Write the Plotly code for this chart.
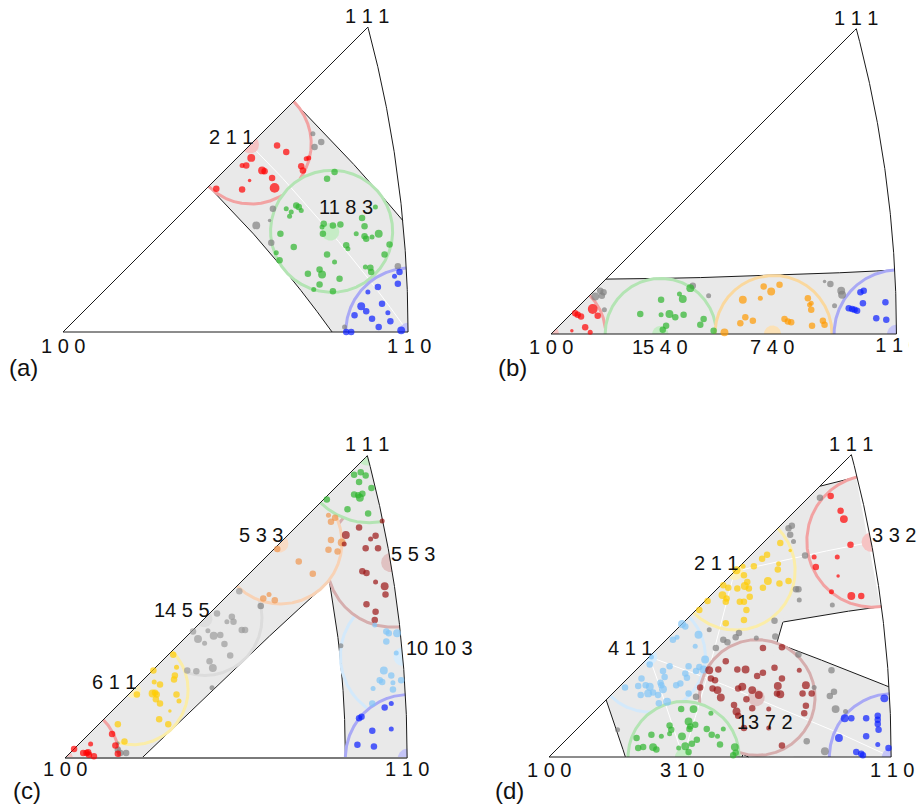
import numpy as np
import plotly.graph_objects as go

# ---------------------------------------------------------------------------
# Orientation data: stereographic coordinates (X, Y) of each grain in the
# standard [100]-[110]-[111] triangle, plus a relative weight (1..5).
# ---------------------------------------------------------------------------
A_RED = [(0.257, 0.224, 3), (0.268, 0.216, 3), (0.226, 0.209, 4), (0.215, 0.200, 2), (0.220, 0.200, 3),
         (0.239, 0.194, 4), (0.242, 0.193, 3), (0.251, 0.185, 3), (0.254, 0.173, 5), (0.224, 0.182, 1),
         (0.215, 0.171, 3), (0.184, 0.172, 3), (0.286, 0.199, 3), (0.288, 0.194, 3), (0.292, 0.208, 2),
         (0.295, 0.209, 2)]
A_GREY = [(0.300, 0.238, 2), (0.310, 0.228, 3), (0.302, 0.222, 3), (0.252, 0.148, 3), (0.248, 0.134, 1),
          (0.232, 0.128, 4), (0.250, 0.107, 3), (0.402, 0.079, 3), (0.338, 0.006, 2)]
A_GREEN = [(0.326, 0.192, 3), (0.317, 0.184, 3), (0.375, 0.150, 2), (0.268, 0.148, 2), (0.274, 0.144, 2),
           (0.280, 0.152, 3), (0.283, 0.150, 3), (0.286, 0.146, 2), (0.272, 0.139, 2), (0.359, 0.137, 3),
           (0.362, 0.127, 3), (0.313, 0.130, 3), (0.311, 0.126, 2), (0.324, 0.128, 3), (0.333, 0.129, 3),
           (0.312, 0.118, 3), (0.352, 0.118, 2), (0.362, 0.115, 3), (0.364, 0.112, 3), (0.371, 0.114, 2),
           (0.379, 0.118, 4), (0.261, 0.118, 3), (0.277, 0.102, 3), (0.340, 0.104, 3), (0.342, 0.100, 2),
           (0.392, 0.105, 3), (0.386, 0.093, 3), (0.317, 0.093, 3), (0.326, 0.084, 2), (0.256, 0.095, 2),
           (0.260, 0.086, 3), (0.369, 0.077, 3), (0.370, 0.072, 3), (0.363, 0.078, 2), (0.294, 0.070, 3),
           (0.308, 0.075, 3), (0.311, 0.069, 4), (0.308, 0.057, 3), (0.324, 0.049, 3), (0.301, 0.051, 2),
           (0.332, 0.064, 3)]
A_BLUE = [(0.404, 0.072, 3), (0.398, 0.067, 2), (0.402, 0.058, 3), (0.378, 0.054, 3), (0.366, 0.048, 2),
          (0.358, 0.031, 4), (0.364, 0.025, 3), (0.383, 0.034, 3), (0.390, 0.023, 2), (0.350, 0.020, 3),
          (0.371, 0.016, 3), (0.393, 0.013, 3), (0.379, 0.006, 3), (0.406, 0.002, 4), (0.340, 0.000, 3),
          (0.346, 0.000, 3)]

B_RED = [(0.029, 0.025, 3), (0.032, 0.023, 3), (0.036, 0.021, 3), (0.050, 0.030, 5), (0.056, 0.022, 3),
         (0.041, 0.008, 3), (0.047, 0.002, 2), (0.025, 0.004, 1)]
B_GREY = [(0.053, 0.045, 4), (0.059, 0.052, 3), (0.063, 0.050, 3), (0.061, 0.046, 3), (0.064, 0.029, 2),
          (0.170, 0.058, 3), (0.189, 0.046, 2), (0.328, 0.063, 1), (0.335, 0.060, 3), (0.348, 0.052, 4),
          (0.349, 0.047, 4), (0.340, 0.034, 2)]
B_GREEN = [(0.167, 0.055, 4), (0.154, 0.048, 2), (0.158, 0.042, 4), (0.132, 0.041, 3), (0.107, 0.024, 3),
           (0.132, 0.023, 2), (0.142, 0.024, 4), (0.149, 0.020, 3), (0.159, 0.023, 3), (0.183, 0.018, 3),
           (0.179, 0.011, 3), (0.138, 0.010, 3), (0.134, 0.005, 3), (0.195, 0.004, 3)]
B_ORANGE = [(0.230, 0.041, 4), (0.227, 0.013, 3), (0.233, 0.020, 3), (0.242, 0.016, 3), (0.251, 0.043, 2),
            (0.255, 0.057, 3), (0.264, 0.051, 4), (0.274, 0.059, 3), (0.280, 0.018, 3), (0.284, 0.015, 3),
            (0.288, 0.014, 3), (0.308, 0.043, 3), (0.310, 0.035, 2), (0.312, 0.037, 2), (0.312, 0.029, 3),
            (0.313, 0.010, 3), (0.326, 0.016, 3), (0.328, 0.011, 3), (0.208, 0.002, 4)]
B_BLUE = [(0.371, 0.050, 3), (0.375, 0.052, 3), (0.374, 0.037, 3), (0.357, 0.031, 3), (0.361, 0.030, 3),
          (0.364, 0.029, 3), (0.367, 0.028, 3), (0.401, 0.038, 3), (0.390, 0.019, 3), (0.402, 0.017, 3)]

C_RED = [(0.011, 0.011, 3), (0.022, 0.006, 3), (0.026, 0.006, 3), (0.028, 0.007, 3), (0.029, 0.004, 3),
         (0.035, 0.002, 3), (0.031, 0.017, 2), (0.057, 0.029, 3), (0.061, 0.015, 3), (0.064, 0.005, 3)]
C_GREY = [(0.064, 0.010, 3), (0.067, 0.006, 3), (0.074, 0.006, 3), (0.064, 0.018, 1), (0.237, 0.184, 3),
          (0.178, 0.085, 2), (0.334, 0.136, 2)]
C_GREY_1455 = [(0.155, 0.153, 3), (0.161, 0.144, 4), (0.169, 0.139, 2), (0.173, 0.154, 2), (0.180, 0.148, 4),
               (0.188, 0.149, 3), (0.193, 0.138, 3), (0.184, 0.175, 3), (0.196, 0.165, 2), (0.202, 0.171, 3),
               (0.204, 0.165, 3), (0.214, 0.155, 3), (0.218, 0.155, 3), (0.200, 0.124, 3), (0.175, 0.117, 3),
               (0.179, 0.109, 4), (0.159, 0.105, 3), (0.148, 0.106, 3), (0.211, 0.202, 3)]
C_YELLOW = [(0.087, 0.077, 3), (0.106, 0.078, 4), (0.109, 0.079, 3), (0.111, 0.077, 3), (0.110, 0.071, 3),
            (0.107, 0.106, 3), (0.108, 0.092, 2), (0.115, 0.089, 3), (0.132, 0.095, 3), (0.133, 0.100, 3),
            (0.135, 0.110, 2), (0.131, 0.125, 3), (0.135, 0.077, 3), (0.138, 0.069, 2), (0.115, 0.066, 3),
            (0.114, 0.047, 3), (0.125, 0.041, 3), (0.127, 0.057, 1), (0.064, 0.041, 3), (0.072, 0.020, 3)]
C_PEACH = [(0.257, 0.253, 3), (0.283, 0.238, 3), (0.240, 0.193, 3), (0.247, 0.198, 2), (0.254, 0.191, 3),
           (0.322, 0.286, 3), (0.327, 0.291, 3), (0.319, 0.294, 2), (0.322, 0.264, 3), (0.319, 0.252, 3),
           (0.330, 0.250, 3), (0.335, 0.261, 4), (0.300, 0.223, 3)]
C_GREEN = [(0.350, 0.343, 3), (0.358, 0.346, 3), (0.364, 0.342, 3), (0.356, 0.334, 3), (0.371, 0.327, 3),
           (0.350, 0.319, 3), (0.355, 0.318, 3), (0.357, 0.315, 4), (0.360, 0.320, 3), (0.317, 0.313, 3),
           (0.342, 0.301, 3), (0.367, 0.296, 3)]
C_BROWN = [(0.384, 0.287, 2), (0.340, 0.270, 4), (0.338, 0.259, 2), (0.356, 0.279, 3), (0.376, 0.269, 3),
           (0.370, 0.265, 2), (0.379, 0.254, 3), (0.364, 0.254, 3), (0.360, 0.226, 3), (0.365, 0.224, 3),
           (0.376, 0.213, 2), (0.387, 0.208, 4), (0.388, 0.198, 3), (0.365, 0.186, 3), (0.376, 0.177, 3),
           (0.375, 0.167, 3)]
C_LBLUE = [(0.375, 0.161, 2), (0.389, 0.153, 3), (0.392, 0.151, 3), (0.402, 0.151, 4), (0.389, 0.141, 3),
           (0.401, 0.127, 2), (0.386, 0.106, 4), (0.381, 0.094, 3), (0.384, 0.092, 3), (0.395, 0.100, 3),
           (0.397, 0.091, 2), (0.407, 0.094, 3), (0.397, 0.083, 3), (0.373, 0.084, 2), (0.372, 0.066, 3)]
C_BLUE = [(0.387, 0.061, 3), (0.395, 0.066, 2), (0.359, 0.050, 3), (0.356, 0.048, 3), (0.372, 0.033, 3),
          (0.395, 0.035, 2), (0.354, 0.016, 3), (0.374, 0.014, 3)]

D_RED = [(0.341, 0.316, 3), (0.353, 0.298, 3), (0.357, 0.288, 4), (0.365, 0.257, 3), (0.321, 0.242, 2),
         (0.349, 0.242, 2), (0.323, 0.230, 3), (0.350, 0.219, 1), (0.342, 0.200, 2), (0.366, 0.195, 4),
         (0.378, 0.195, 3)]
D_GREY = [(0.328, 0.314, 3), (0.290, 0.277, 3), (0.294, 0.280, 3), (0.292, 0.269, 3), (0.296, 0.261, 2),
          (0.310, 0.244, 3), (0.299, 0.203, 3), (0.302, 0.203, 3), (0.303, 0.190, 2), (0.343, 0.184, 2),
          (0.273, 0.165, 3), (0.274, 0.146, 3), (0.251, 0.144, 2), (0.302, 0.124, 3), (0.342, 0.105, 3),
          (0.321, 0.084, 2), (0.345, 0.079, 3), (0.340, 0.074, 3), (0.347, 0.058, 4), (0.359, 0.055, 2),
          (0.312, 0.019, 3), (0.334, 0.007, 4), (0.194, 0.154, 2), (0.202, 0.132, 3), (0.211, 0.142, 3),
          (0.216, 0.139, 3), (0.226, 0.145, 3), (0.230, 0.150, 3), (0.178, 0.073, 3), (0.083, 0.033, 2)]
D_YELLOW = [(0.280, 0.259, 3), (0.264, 0.245, 3), (0.258, 0.240, 3), (0.278, 0.234, 2), (0.277, 0.227, 3),
            (0.248, 0.231, 3), (0.227, 0.226, 4), (0.235, 0.231, 2), (0.236, 0.220, 3), (0.240, 0.212, 3),
            (0.265, 0.213, 4), (0.279, 0.210, 3), (0.290, 0.213, 3), (0.259, 0.205, 3), (0.211, 0.208, 3),
            (0.217, 0.205, 3), (0.228, 0.204, 3), (0.237, 0.207, 4), (0.242, 0.204, 3), (0.210, 0.196, 4),
            (0.215, 0.192, 3), (0.214, 0.188, 3), (0.231, 0.188, 3), (0.236, 0.188, 3), (0.192, 0.189, 3),
            (0.182, 0.178, 3), (0.239, 0.178, 3), (0.214, 0.162, 3), (0.236, 0.166, 3), (0.243, 0.194, 3),
            (0.292, 0.250, 1)]
D_LBLUE = [(0.161, 0.161, 4), (0.165, 0.158, 3), (0.181, 0.148, 4), (0.155, 0.145, 2), (0.150, 0.142, 3),
           (0.177, 0.134, 2), (0.189, 0.118, 4), (0.182, 0.109, 3), (0.187, 0.106, 4), (0.169, 0.110, 3),
           (0.167, 0.096, 3), (0.178, 0.104, 3), (0.122, 0.112, 3), (0.146, 0.110, 3), (0.138, 0.104, 3),
           (0.140, 0.097, 3), (0.135, 0.090, 3), (0.136, 0.087, 3), (0.138, 0.082, 4), (0.154, 0.087, 3),
           (0.112, 0.095, 3), (0.108, 0.086, 3), (0.117, 0.087, 3), (0.122, 0.085, 4), (0.120, 0.077, 4),
           (0.111, 0.075, 3), (0.126, 0.078, 3), (0.132, 0.075, 3), (0.143, 0.067, 4), (0.133, 0.065, 3),
           (0.092, 0.084, 3), (0.159, 0.089, 3), (0.165, 0.101, 3), (0.169, 0.077, 3), (0.124, 0.121, 2)]
D_BROWN = [(0.259, 0.132, 3), (0.282, 0.133, 3), (0.194, 0.105, 4), (0.214, 0.116, 3), (0.205, 0.106, 3),
           (0.196, 0.095, 3), (0.201, 0.093, 3), (0.228, 0.106, 3), (0.238, 0.106, 4), (0.252, 0.098, 3),
           (0.259, 0.102, 3), (0.273, 0.108, 3), (0.282, 0.095, 3), (0.303, 0.105, 2), (0.198, 0.083, 3),
           (0.204, 0.081, 4), (0.208, 0.072, 4), (0.183, 0.084, 3), (0.229, 0.083, 3), (0.234, 0.085, 4),
           (0.246, 0.081, 4), (0.254, 0.075, 4), (0.277, 0.086, 4), (0.276, 0.077, 3), (0.280, 0.076, 4),
           (0.311, 0.087, 4), (0.307, 0.077, 3), (0.318, 0.077, 3), (0.311, 0.062, 3), (0.309, 0.053, 3),
           (0.224, 0.063, 3), (0.227, 0.055, 4), (0.229, 0.050, 3), (0.239, 0.070, 3), (0.246, 0.059, 3),
           (0.266, 0.058, 2), (0.236, 0.035, 3), (0.266, 0.035, 2), (0.282, 0.014, 3)]
D_GREEN = [(0.160, 0.058, 3), (0.175, 0.058, 4), (0.146, 0.038, 3), (0.148, 0.033, 3), (0.169, 0.043, 4),
           (0.171, 0.037, 3), (0.177, 0.039, 3), (0.170, 0.034, 3), (0.161, 0.025, 4), (0.179, 0.021, 3),
           (0.165, 0.013, 4), (0.169, 0.006, 3), (0.146, 0.028, 2), (0.124, 0.027, 3), (0.114, 0.012, 3),
           (0.126, 0.012, 4), (0.130, 0.009, 3), (0.106, 0.023, 3), (0.191, 0.034, 3), (0.197, 0.027, 3),
           (0.204, 0.025, 2), (0.207, 0.015, 3), (0.225, 0.012, 4), (0.226, 0.005, 3), (0.223, 0.002, 3),
           (0.157, 0.011, 2), (0.173, 0.016, 3), (0.136, 0.025, 2), (0.108, 0.011, 3), (0.196, 0.053, 2),
           (0.211, 0.034, 2)]
D_BLUE = [(0.406, 0.071, 4), (0.358, 0.047, 4), (0.366, 0.047, 3), (0.384, 0.047, 3), (0.398, 0.050, 3),
          (0.398, 0.045, 3), (0.398, 0.040, 3), (0.399, 0.033, 3), (0.351, 0.023, 4), (0.384, 0.025, 3),
          (0.398, 0.015, 2), (0.372, 0.006, 3), (0.378, 0.004, 3), (0.380, 0.002, 3), (0.411, 0.011, 3)]

# ---------------------------------------------------------------------------
# Styling
# ---------------------------------------------------------------------------
W, H = 919, 805
HALF = np.radians(7.5)   # band half-width and pole circle radius
DOT = np.radians(1.1)    # filled marker at each reference pole
SIZE = {1: 3.5, 2: 5.0, 3: 6.5, 4: 7.9, 5: 9.8}
FILL = "#e9e9e9"
FONT = "Liberation Sans, Arial, sans-serif"
INK = "#111111"
EDGE = "#1a1a1a"

# colour: (grain dots, pole circle, pole marker)
PAL = {
    "red": ("#ff0000", "#f2a2a2", "#f6c3c3"),
    "green": ("#2db52d", "#b3e4b3", "#c6ecc6"),
    "blue": ("#0a1eff", "#a9a9f5", "#c5c5f7"),
    "orange": ("#ff9a00", "#fad89e", "#fbe1b6"),
    "peach": ("#f0964e", "#f8d2b5", "#f8dbc5"),
    "brown": ("#9b1515", "#d6aeae", "#e0c2c2"),
    "lblue": ("#80c4f6", "#d3e9fb", "#d8ecfb"),
    "yellow": ("#ffcc00", "#fbeda8", "#fcf0be"),
    "grey": ("#808080", "#dcdcdc", "#dedede"),
    "ltgrey": ("#9b9b9b", "#dcdcdc", "#dedede"),
}

# ---------------------------------------------------------------------------
# Stereographic geometry (projection along [100])
# ---------------------------------------------------------------------------
def unit(v):
    v = np.asarray(v, float)
    return v / np.linalg.norm(v, axis=-1, keepdims=True)


def pole(hkl):
    return unit(sorted(np.abs(np.asarray(hkl, float)), reverse=True))


def project(d):
    d = np.atleast_2d(d)
    return d[:, 1] / (1 + d[:, 0]), d[:, 2] / (1 + d[:, 0])


def inside(d, eps=1e-9):
    return (d[..., 0] >= d[..., 1] - eps) & (d[..., 1] >= d[..., 2] - eps) & (d[..., 2] >= -eps)


CENTRE = unit(pole((1, 0, 0)) + pole((1, 1, 0)) + pole((1, 1, 1)))


def zone_normal(p, q):
    return unit(np.cross(pole(p), pole(q)))


def zone_frame(n):
    u = unit(CENTRE - n * (n @ CENTRE))
    return u, np.cross(n, u)


def pole_frame(p):
    ref = np.array([0.0, 0.0, 1.0]) if abs(p[2]) < 0.9 else np.array([1.0, 0.0, 0.0])
    u = unit(np.cross(p, ref))
    return u, np.cross(p, u)


def segments(D, keep, closed=False):
    """Projected polyline pieces of D where keep is True, separated by None."""
    if closed and not keep.all():
        k = int(np.flatnonzero(~keep)[0])
        D, keep = np.roll(D, -k, axis=0), np.roll(keep, -k)
    X, Y = project(D)
    xs, ys = [], []
    idx = np.flatnonzero(keep)
    if idx.size == 0:
        return xs, ys
    if closed and keep.all():
        pieces = [np.append(idx, idx[0])]
    else:
        pieces = np.split(idx, np.flatnonzero(np.diff(idx) > 1) + 1)
    for seg in pieces:
        if seg.size < 2:
            continue
        xs += list(np.round(X[seg], 5)) + [None]
        ys += list(np.round(Y[seg], 5)) + [None]
    return xs, ys


def band_polygon(n):
    u, v = zone_frame(n)
    t = np.linspace(-np.pi / 2, np.pi / 2, 1441)
    b = np.linspace(-HALF, HALF, 241)
    T, B = np.meshgrid(t, b, indexing="ij")
    D = (np.cos(B)[..., None] * (np.cos(T)[..., None] * u + np.sin(T)[..., None] * v)
         + np.sin(B)[..., None] * n)
    ok = inside(D)
    rows = np.flatnonzero(ok.any(axis=1))
    hi = [D[i, np.flatnonzero(ok[i]).max()] for i in rows]
    lo = [D[i, np.flatnonzero(ok[i]).min()] for i in rows]
    X, Y = project(np.array(hi + lo[::-1]))
    return list(np.round(X, 5)), list(np.round(Y, 5))


def band_curve(n, beta, others=()):
    u, v = zone_frame(n)
    t = np.linspace(-np.pi / 2, np.pi / 2, 4001)
    D = np.cos(beta) * (np.cos(t)[:, None] * u + np.sin(t)[:, None] * v) + np.sin(beta) * n
    keep = inside(D)
    for m in others:
        keep &= np.abs(D @ m) > np.sin(HALF) - 1e-9
    return segments(D, keep)


def ring(p, r, covers=()):
    """Circle of angular radius r about p, inside the triangle, hidden under later pole discs."""
    u, v = pole_frame(p)
    t = np.linspace(0, 2 * np.pi, 1440, endpoint=False)
    D = np.cos(r) * p + np.sin(r) * (np.cos(t)[:, None] * u + np.sin(t)[:, None] * v)
    keep = inside(D)
    for q in covers:
        keep &= (D @ q) < np.cos(r) - 1e-9
    return segments(D, keep, closed=True)


def disk(p, r):
    u, v = pole_frame(p)
    t = np.linspace(0, 2 * np.pi, 240, endpoint=False)
    rho = np.linspace(0, r, 40)
    dirs = np.cos(t)[:, None] * u + np.sin(t)[:, None] * v
    D = np.cos(rho)[None, :, None] * p + np.sin(rho)[None, :, None] * dirs[:, None, :]
    ok = inside(D)
    valid = ok[:, 1:].any(axis=1)
    ends = np.array([D[i, np.flatnonzero(ok[i]).max()] for i in range(len(t))])
    if valid.all():
        P = ends
    else:
        k = int(np.flatnonzero(~valid)[0])
        order = np.roll(np.arange(len(t)), -k)
        P = np.vstack([p[None, :], ends[order][valid[order]]])
    X, Y = project(P)
    return list(np.round(X, 5)), list(np.round(Y, 5))


def triangle_edges():
    """[100]-[110] base, [110]-[111] arc and [111]-[100] side of the standard triangle."""
    psi = np.linspace(0, np.pi / 4, 200)
    bottom = np.stack([np.cos(psi), np.sin(psi), 0 * psi], 1)
    chi = np.linspace(0, np.arctan(1 / np.sqrt(2)), 200)
    arc = np.stack([np.cos(chi) / np.sqrt(2), np.cos(chi) / np.sqrt(2), np.sin(chi)], 1)
    phi = np.linspace(np.arccos(1 / np.sqrt(3)), 0, 200)
    left = np.stack([np.cos(phi), np.sin(phi) / np.sqrt(2), np.sin(phi) / np.sqrt(2)], 1)
    out = []
    for part in (bottom, np.vstack([arc, left])):
        X, Y = project(part)
        out.append((list(np.round(X, 5)), list(np.round(Y, 5))))
    return out


# ---------------------------------------------------------------------------
# Panels: placement on the page, zone bands, reference poles, grains, labels
# (label offsets are in pixels: right, down; "clip" labels are cut at the panel edge)
# ---------------------------------------------------------------------------
PANELS = [
    dict(n="", dom=((0.0, 0.5), (0.5, 1.0)), origin=(63, 332), scale=833, zone_lines=True,
         base=(EDGE, 1),
         zones=[((2, 1, 1), (1, 1, 0))],
         rings=[((2, 1, 1), "red"), ((11, 8, 3), "green"), ((1, 1, 0), "blue")],
         grains=[(A_GREY, "grey"), (A_RED, "red"), (A_GREEN, "green"), (A_BLUE, "blue")],
         labels=[((1, 1, 1), "1 1 1", (-1, -11)), ((1, 0, 0), "1 0 0", (0, 14)),
                 ((1, 1, 0), "1 1 0", (1, 14)), ((2, 1, 1), "2 1 1", (-19, -8)),
                 ((11, 8, 3), "11 8 3", (16, -25))],
         clip=[], tag="(a)", tag_at=(23, 367)),
    dict(n="2", dom=((0.5, 0.989), (0.5, 1.0)), origin=(551, 334), scale=834, zone_lines=False,
         base=(EDGE, 1),
         zones=[((1, 0, 0), (1, 1, 0))],
         rings=[((1, 0, 0), "red"), ((15, 4, 0), "green"), ((7, 4, 0), "orange"), ((1, 1, 0), "blue")],
         grains=[(B_GREY, "grey"), (B_RED, "red"), (B_GREEN, "green"), (B_ORANGE, "orange"),
                 (B_BLUE, "blue")],
         labels=[((1, 1, 1), "1 1 1", (0, -11)), ((1, 0, 0), "1 0 0", (0, 13)),
                 ((15, 4, 0), "15 4 0", (0, 13)), ((7, 4, 0), "7 4 0", (0, 13))],
         clip=[((1, 1, 0), "1 1 0", (1, 13))], tag="(b)", tag_at=(512, 367)),
    dict(n="3", dom=((0.0, 0.5), (0.0, 0.5)), origin=(65, 758), scale=826, zone_lines=False,
         base=("#7a7a7a", 2),
         zones=[((1, 0, 0), (1, 1, 1)), ((1, 1, 0), (1, 1, 1))],
         rings=[((14, 5, 5), "grey"), ((6, 1, 1), "yellow"), ((1, 0, 0), "red"), ((10, 10, 3), "lblue"),
                ((5, 5, 3), "brown"), ((5, 3, 3), "peach"), ((1, 1, 0), "blue"), ((1, 1, 1), "green")],
         grains=[(C_GREY, "grey"), (C_GREY_1455, "ltgrey"), (C_RED, "red"), (C_YELLOW, "yellow"),
                 (C_PEACH, "peach"), (C_GREEN, "green"), (C_BROWN, "brown"), (C_LBLUE, "lblue"),
                 (C_BLUE, "blue")],
         labels=[((1, 1, 1), "1 1 1", (0, -12)), ((1, 0, 0), "1 0 0", (0, 11)),
                 ((1, 1, 0), "1 1 0", (0, 11)), ((5, 3, 3), "5 3 3", (-18, -9)),
                 ((5, 5, 3), "5 5 3", (22, -9)), ((14, 5, 5), "14 5 5", (-22, -9)),
                 ((10, 10, 3), "10 10 3", (37, -9)), ((6, 1, 1), "6 1 1", (-19, -8))],
         clip=[], tag="(c)", tag_at=(27, 790)),
    dict(n="4", dom=((0.5, 1.0), (0.0, 0.5)), origin=(549, 757), scale=826, zone_lines=True,
         base=(EDGE, 1),
         zones=[((2, 1, 1), (3, 3, 2)), ((4, 1, 1), (1, 1, 0)), ((2, 1, 1), (3, 1, 0)),
                ((4, 1, 1), (3, 1, 0))],
         rings=[((3, 3, 2), "red"), ((2, 1, 1), "yellow"), ((4, 1, 1), "lblue"), ((13, 7, 2), "brown"),
                ((3, 1, 0), "green"), ((1, 1, 0), "blue")],
         grains=[(D_GREY, "grey"), (D_RED, "red"), (D_YELLOW, "yellow"), (D_LBLUE, "lblue"),
                 (D_BROWN, "brown"), (D_GREEN, "green"), (D_BLUE, "blue")],
         labels=[((1, 1, 1), "1 1 1", (0, -11)), ((1, 0, 0), "1 0 0", (0, 13)),
                 ((1, 1, 0), "1 1 0", (1, 13)), ((3, 1, 0), "3 1 0", (-1, 13)),
                 ((2, 1, 1), "2 1 1", (-19, -8)), ((4, 1, 1), "4 1 1", (-19, -9)),
                 ((3, 3, 2), "3 3 2", (23, -7)), ((13, 7, 2), "13 7 2", (9, 24))],
         clip=[], tag="(d)", tag_at=(510, 790)),
]

fig = go.Figure()
layout = dict(width=W, height=H, margin=dict(l=0, r=0, t=0, b=0), paper_bgcolor="white",
              plot_bgcolor="rgba(0,0,0,0)", showlegend=False, annotations=[])
(base_x, base_y), (rim_x, rim_y) = triangle_edges()

for P in PANELS:
    xa, ya = "x" + P["n"], "y" + P["n"]
    (dx0, dx1), (dy0, dy1) = P["dom"]
    ox, oy = P["origin"]
    s = P["scale"]
    layout["xaxis" + P["n"]] = dict(domain=[dx0, dx1], range=[(dx0 * W - ox) / s, (dx1 * W - ox) / s],
                                    visible=False, fixedrange=True, anchor=ya)
    layout["yaxis" + P["n"]] = dict(domain=[dy0, dy1],
                                    range=[(oy - (1 - dy0) * H) / s, (oy - (1 - dy1) * H) / s],
                                    visible=False, fixedrange=True, anchor=xa)
    ax = dict(xaxis=xa, yaxis=ya, hoverinfo="skip")

    normals = [zone_normal(p, q) for p, q in P["zones"]]

    # shaded zone bands
    for n in normals:
        X, Y = band_polygon(n)
        fig.add_trace(go.Scatter(x=X, y=Y, mode="lines", fill="toself", fillcolor=FILL,
                                 line=dict(width=0, color=FILL), **ax))
    # zone traces (white) and band borders (black)
    if P["zone_lines"]:
        for n in normals:
            X, Y = band_curve(n, 0.0)
            fig.add_trace(go.Scatter(x=X, y=Y, mode="lines", line=dict(color="white", width=1), **ax))
    for i, n in enumerate(normals):
        others = [m for j, m in enumerate(normals) if j != i]
        for beta in (HALF, -HALF):
            X, Y = band_curve(n, beta, others)
            if X:
                fig.add_trace(go.Scatter(x=X, y=Y, mode="lines", line=dict(color=EDGE, width=1), **ax))
    # circles around reference poles (each one covers the ones listed before it)
    poles = [pole(hkl) for hkl, _ in P["rings"]]
    for i, (hkl, c) in enumerate(P["rings"]):
        X, Y = ring(poles[i], HALF, poles[i + 1:])
        fig.add_trace(go.Scatter(x=X, y=Y, mode="lines", line=dict(color=PAL[c][1], width=3), **ax))
    for hkl, c in P["rings"]:
        X, Y = disk(pole(hkl), DOT)
        fig.add_trace(go.Scatter(x=X, y=Y, mode="lines", fill="toself", fillcolor=PAL[c][2],
                                 line=dict(width=0, color=PAL[c][2]), **ax))
    # triangle
    bc, bw = P["base"]
    fig.add_trace(go.Scatter(x=base_x, y=base_y, mode="lines", line=dict(color=bc, width=bw), **ax))
    fig.add_trace(go.Scatter(x=rim_x, y=rim_y, mode="lines", line=dict(color=EDGE, width=1), **ax))
    # grains
    for pts, c in P["grains"]:
        fig.add_trace(go.Scatter(x=[p[0] for p in pts], y=[p[1] for p in pts], mode="markers",
                                 marker=dict(color=PAL[c][0], size=[SIZE[p[2]] for p in pts],
                                             line=dict(width=0)), **ax))
    # pole labels
    for hkl, text, (sx, sy) in P["labels"]:
        X, Y = project(pole(hkl))
        layout["annotations"].append(dict(x=float(X[0]), y=float(Y[0]), xref=xa, yref=ya, text=text,
                                          showarrow=False, xanchor="center", yanchor="middle",
                                          xshift=sx, yshift=-sy,
                                          font=dict(family=FONT, size=20, color=INK)))
    for hkl, text, (sx, sy) in P["clip"]:
        X, Y = project(pole(hkl))
        fig.add_trace(go.Scatter(x=[float(X[0]) + sx / s], y=[float(Y[0]) - sy / s], mode="text",
                                 text=[text], textposition="middle center", cliponaxis=True,
                                 textfont=dict(family=FONT, size=20, color=INK), **ax))
    tx, ty = P["tag_at"]
    layout["annotations"].append(dict(x=tx / W, y=1 - ty / H, xref="paper", yref="paper", text=P["tag"],
                                      showarrow=False, xanchor="center", yanchor="middle",
                                      font=dict(family=FONT, size=24, color=INK)))

fig.update_layout(**layout)
fig.write_html("out.html")
